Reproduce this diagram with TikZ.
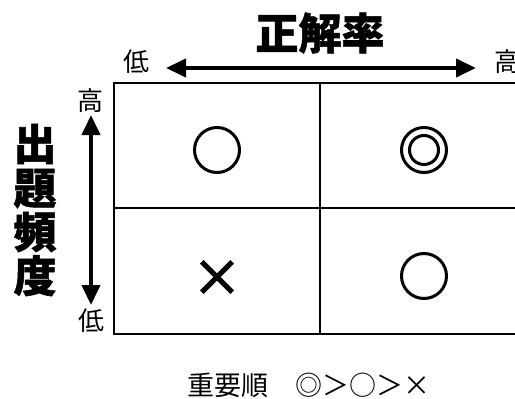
\documentclass[tikz,border=0pt]{standalone}
\usepackage{fontspec}
\newfontfamily\cjk{Noto Sans CJK JP}
\newfontfamily\cjkh{Noto Sans CJK JP}[BoldFeatures={FakeBold=1.2}]
\usetikzlibrary{arrows.meta}
\tikzset{
  lbl/.style={font=\cjk\fontsize{26}{26}\selectfont, inner sep=0pt},
  heading/.style={font=\cjkh\bfseries\fontsize{43}{44}\selectfont, inner sep=0pt},
  gridline/.style={line width=2pt},
  axis/.style={line width=4pt, {Triangle[length=20pt,width=18pt]}-{Triangle[length=20pt,width=18pt]}, shorten <=-1pt, shorten >=-1pt},
  mark circle/.style={circle, draw, line width=3pt, inner sep=0pt},
}
\begin{document}
\begin{tikzpicture}[x=1pt,y=-1pt]
\useasboundingbox (0,0) rectangle (515,399);
% titles
\node[heading] (title) at (320,33) {正解率};
\node[heading, align=center] (vtitle) at (35,210) {出\\題\\頻\\度};
% axis labels
\node[lbl] (xlow) at (136,62) {低};
\node[lbl] (xhigh) at (507,62) {高};
\node[lbl] (yhigh) at (90,101) {高};
\node[lbl] (ylow) at (91,321) {低};
% axis arrows
\coordinate (xa) at (167,68);
\coordinate (xb) at (475,68);
\coordinate (ya) at (91,116);
\coordinate (yb) at (91,304);
\draw[axis] (xa) -- (xb);
\draw[axis] (ya) -- (yb);
% grid
\coordinate (tl) at (114,83);
\coordinate (tr) at (516,83);
\coordinate (ml) at (114,208);
\coordinate (mr) at (516,208);
\coordinate (bl) at (114,334);
\coordinate (br) at (516,334);
\coordinate (tm) at (320,83);
\coordinate (bm) at (320,334);
\draw[gridline] (tr) -- (tl) -- (bl) -- (br);
\draw[gridline] (ml) -- (mr);
\draw[gridline] (tm) -- (bm);
% marks
\node[mark circle, minimum size=45pt] (c1) at (217,150) {};
\node[mark circle, minimum size=45pt] (c2) at (424,150) {};
\node[mark circle, minimum size=29pt] (c2in) at (424,150) {};
\node[mark circle, minimum size=45pt] (c3) at (424,276) {};
\node[minimum size=30pt, inner sep=0pt] (x1) at (217,277) {};
\draw[line width=5pt] (x1.north west) -- (x1.south east);
\draw[line width=5pt] (x1.north east) -- (x1.south west);
% legend
\node[font=\cjk\fontsize{27}{27}\selectfont, inner sep=0pt, anchor=base west] (legend) at (187,395) {重要順　◎＞○＞×};
\end{tikzpicture}
\end{document}
